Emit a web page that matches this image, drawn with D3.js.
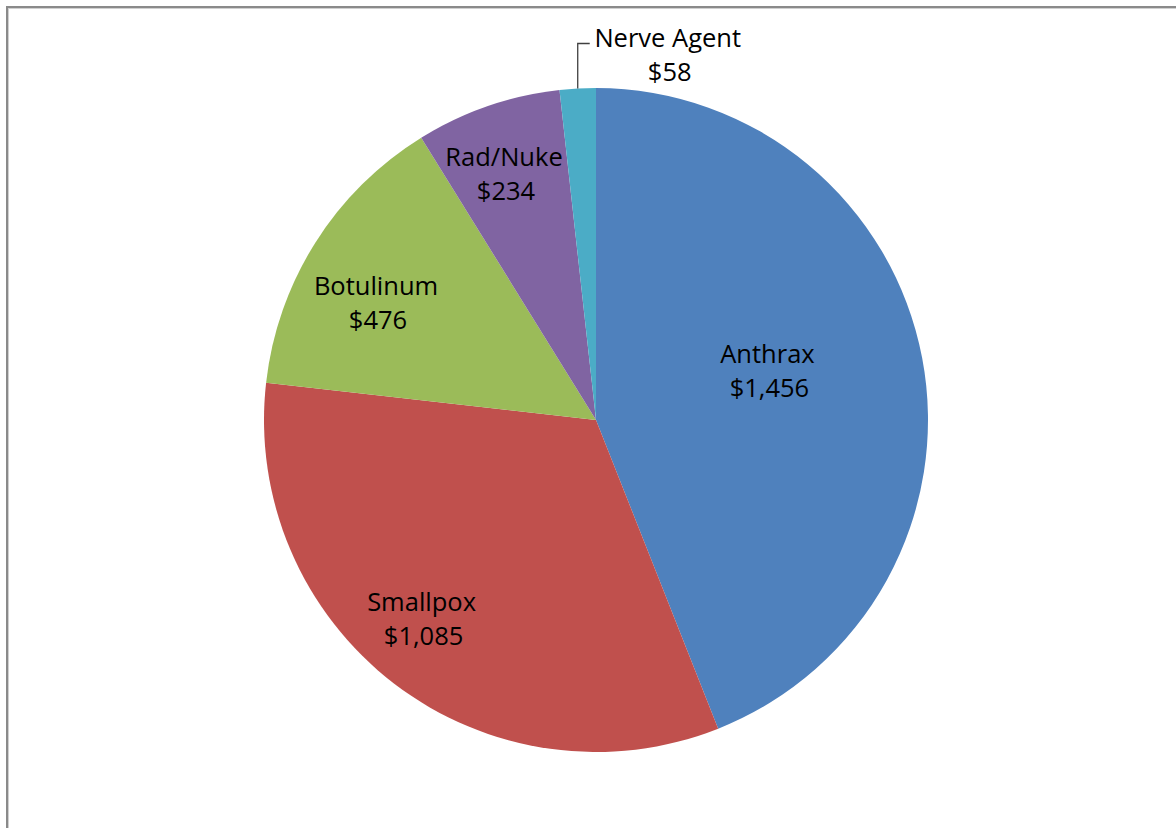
<!DOCTYPE html>
<html>
<head>
<meta charset="utf-8">
<script src="https://cdn.jsdelivr.net/npm/d3@7"></script>
<style>
  html, body { margin: 0; padding: 0; background: #fff; overflow: hidden; }
  svg { display: block; }
</style>
</head>
<body>
<div id="chart"></div>
<script>
const categories = ["Anthrax", "Smallpox", "Botulinum", "Rad/Nuke", "Nerve Agent"];
const values = [1456, 1085, 476, 234, 58];
const colors = ["#4F81BD", "#C0504D", "#9BBB59", "#8064A2", "#4BACC6"];

const W = 1176, H = 828;
const cx = 596, cy = 420, R = 332;

// Excel "best fit" label placement: radius along mid-angle plus a small nudge
const labelStyle = {
  "Anthrax":   { r: 0.535, dx: -3, dy: -16 },
  "Smallpox":  { r: 0.80, dx: -13, dy: -12 },
  "Botulinum": { r: 0.745, dx: -11, dy: 15 },
  "Rad/Nuke":  { r: 0.785, dx: -7, dy: 0 }
};

const svg = d3.select("#chart")
  .append("svg")
  .attr("width", W)
  .attr("height", H);

// chart frame (runs off the right and bottom of the picture)
svg.append("rect")
  .attr("x", 7).attr("y", 7)
  .attr("width", W + 20).attr("height", H + 20)
  .attr("fill", "none")
  .attr("stroke", "#8a8a8a")
  .attr("stroke-width", 2);
svg.append("rect")
  .attr("x", 8.5).attr("y", 8.5)
  .attr("width", W + 20).attr("height", H + 20)
  .attr("fill", "none")
  .attr("stroke", "#d0d0d0")
  .attr("stroke-width", 1);

const data = categories.map((c, i) => ({ name: c, value: values[i], color: colors[i] }));

const pie = d3.pie().value(d => d.value).sort(null);
const arcs = pie(data);
const arc = d3.arc().innerRadius(0).outerRadius(R);

const g = svg.append("g").attr("transform", `translate(${cx},${cy})`);

g.selectAll("path.slice")
  .data(arcs)
  .enter()
  .append("path")
  .attr("class", "slice")
  .attr("d", arc)
  .attr("fill", d => d.data.color);

const fmt = d3.format(",");
const fontFamily = "'Open Sans', 'DejaVu Sans', sans-serif";
const fontSize = 25.5;

arcs.forEach(a => {
  const mid = (a.startAngle + a.endAngle) / 2;
  const st = labelStyle[a.data.name];
  let lx, ly;
  if (st) {
    const r = R * st.r;
    lx = Math.sin(mid) * r + st.dx;
    ly = -Math.cos(mid) * r + st.dy;
  } else {
    // small slice: label outside with leader line
    const px = Math.sin(mid) * R, py = -Math.cos(mid) * R;
    const topY = py - 45;
    g.append("path")
      .attr("d", `M${px},${py}V${topY}H${px + 12}`)
      .attr("fill", "none")
      .attr("stroke", "#404040")
      .attr("stroke-width", 1.3);
    lx = px + 90;
    ly = topY + 11;
  }
  const t = g.append("text")
    .attr("text-anchor", "middle")
    .attr("font-family", fontFamily)
    .attr("font-size", fontSize)
    .attr("fill", "#000");
  t.append("tspan").attr("x", lx).attr("y", ly - 8).text(a.data.name);
  t.append("tspan").attr("x", lx + 2).attr("y", ly + 26).text("$" + fmt(a.data.value));
});
</script>
</body>
</html>
